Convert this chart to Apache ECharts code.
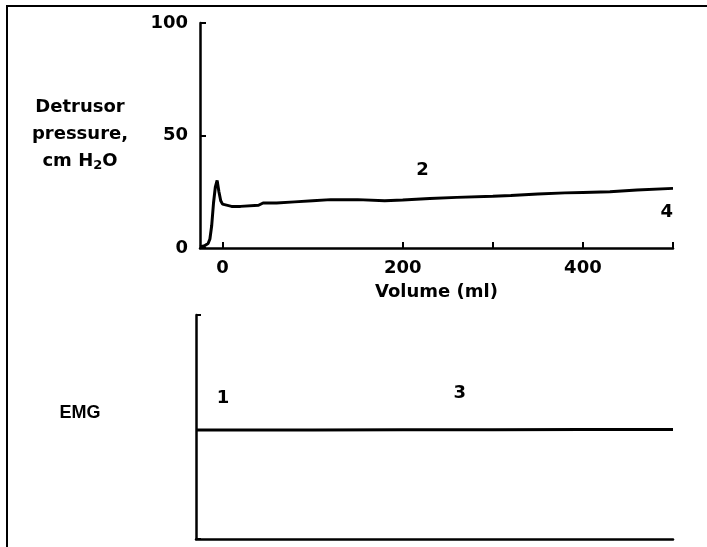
<!DOCTYPE html>
<html><head><meta charset="utf-8">
<script src="https://cdn.jsdelivr.net/npm/echarts@6/dist/echarts.min.js"></script>
<style>html,body{margin:0;padding:0;background:#fff}#c{width:707px;height:547px}</style>
</head><body><div id="c"></div>
<script>
// Detrusor pressure trace: volume (ml) and pressure (cm H2O)
const volume = [-25,-20,-16,-14,-12,-10,-8,-6,-4,-2,0,10,20,40,45,60,80,100,120,150,180,200,230,260,300,320,350,380,400,430,460,500];
const pressure = [0.5,1,2,4,10,20,27,30,25,21,19.5,18.5,18.5,19,20,20,20.5,21,21.5,21.5,21,21.3,22,22.5,23,23.3,24,24.5,24.7,25,25.8,26.5];
// EMG trace (arbitrary units, 0-100)
const emgVolume = [-30,100,200,300,400,500];
const emgLevel = [48.7,48.7,48.8,48.8,48.9,48.9];
// Tick labels
const yTicks = [0,50,100];
const xLabels = [0,200,400];
const xTickMarks = [0,200,300,400,500];
// Annotations
const topNotes = [{t:'2',x:222,y:34.7},{t:'4',x:493,y:16}];
const bottomNotes = [{t:'1',x:0,y:63},{t:'3',x:263,y:65}];

const font = '"DejaVu Sans", sans-serif';
const lineStyle = {color:'#000', width:2.5};
const txt = {color:'#000',fontSize:18,fontWeight:'bold',fontFamily:font};
const chart = echarts.init(document.getElementById('c'));
chart.setOption({
  animation:false,
  backgroundColor:'#fff',
  grid:[
    {left:200,right:34,top:23,height:225},
    {left:196,right:34,top:315,height:224}
  ],
  xAxis:[
    {gridIndex:0,type:'value',min:-25,max:500,
     name:'Volume (ml)',nameLocation:'middle',nameGap:35,
     nameTextStyle:txt,
     axisLine:{onZero:false,lineStyle:lineStyle},
     axisTick:{inside:true,length:6,lineStyle:{color:'#000',width:2},customValues:xTickMarks},
     axisLabel:Object.assign({margin:11,customValues:xLabels},txt),
     splitLine:{show:false}},
    {gridIndex:1,type:'value',min:-30,max:500,
     axisLine:{onZero:false,lineStyle:lineStyle},axisTick:{show:false},axisLabel:{show:false},splitLine:{show:false}}
  ],
  yAxis:[
    {gridIndex:0,type:'value',min:0,max:100,interval:50,
     axisLine:{show:true,onZero:false,lineStyle:lineStyle},
     axisTick:{show:true,inside:true,length:6,lineStyle:{color:'#000',width:2}},
     axisLabel:Object.assign({margin:12,customValues:yTicks},txt),
     splitLine:{show:false}},
    {gridIndex:1,type:'value',min:0,max:100,interval:100,
     axisLine:{show:true,onZero:false,lineStyle:lineStyle},
     axisTick:{show:true,inside:true,length:5,lineStyle:{color:'#000',width:2}},
     axisLabel:{show:false},splitLine:{show:false}}
  ],
  series:[
    {type:'line',xAxisIndex:0,yAxisIndex:0,data:volume.map((v,i)=>[v,pressure[i]]),
     showSymbol:false,lineStyle:{color:'#000',width:3},z:3},
    {type:'line',xAxisIndex:1,yAxisIndex:1,data:emgVolume.map((v,i)=>[v,emgLevel[i]]),
     showSymbol:false,lineStyle:{color:'#000',width:3}},
    {type:'scatter',xAxisIndex:0,yAxisIndex:0,symbolSize:0,itemStyle:{opacity:1},
     data:topNotes.map(n=>({value:[n.x,n.y],name:n.t})),
     label:Object.assign({show:true,position:'inside',formatter:p=>p.name},txt)},
    {type:'scatter',xAxisIndex:1,yAxisIndex:1,symbolSize:0,itemStyle:{opacity:1},
     data:bottomNotes.map(n=>({value:[n.x,n.y],name:n.t})),
     label:Object.assign({show:true,position:'inside',formatter:p=>p.name},txt)}
  ],
  graphic:[
    {type:'polyline',shape:{points:[[7,547],[7,6],[707,6]]},style:{stroke:'#000',lineWidth:2,fill:null}},
    {type:'text',x:80,y:94,style:{
      text:'{n|Detrusor}\n{n|pressure,}\n{n|cm H}{s|2}{n|O}',
      align:'center',fill:'#000',
      rich:{n:{fontSize:18,fontWeight:'bold',fontFamily:font,fill:'#000',lineHeight:27,align:'center'},
            s:{fontSize:13,fontWeight:'bold',fontFamily:font,fill:'#000',lineHeight:27,padding:[9,0,0,0]}}
    }},
    {type:'text',x:80,y:413,style:{text:'EMG',font:'bold 18px "Liberation Sans", Arial, sans-serif',fill:'#000',align:'center',verticalAlign:'middle'}}
  ]
});
</script></body></html>
